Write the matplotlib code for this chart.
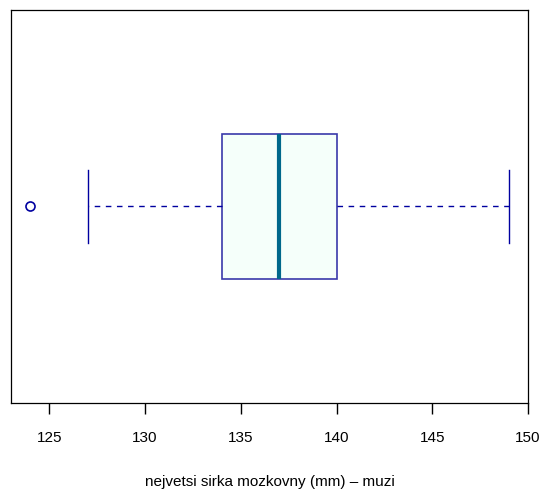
import matplotlib
matplotlib.use("Agg")
import matplotlib.pyplot as plt

# ─── Data ────────────────────────────────────────────────────────────
WHISKER_LO = 127
Q1         = 134
MEDIAN     = 137
Q3         = 140
WHISKER_HI = 149
OUTLIERS   = [124]
XTICKS     = [125, 130, 135, 140, 145, 150]
XLABEL     = "nejvetsi sirka mozkovny (mm) \u2013 muzi"

plt.rcParams["font.family"] = ["Liberation Sans", "DejaVu Sans"]

fig = plt.figure(figsize=(5.43, 4.93), dpi=100)
ax = fig.add_axes([11 / 543, 1 - 403 / 493, 517 / 543, 393 / 493])

stats = [{
    "whislo": WHISKER_LO, "q1": Q1, "med": MEDIAN, "q3": Q3,
    "whishi": WHISKER_HI, "fliers": OUTLIERS,
}]
ax.bxp(stats, positions=[1], vert=False, widths=0.4, patch_artist=True,
       boxprops=dict(facecolor="#F5FFFA", edgecolor="#3a3aaa", linewidth=1.2),
       medianprops=dict(color="#00688B", linewidth=3, solid_capstyle="butt"),
       whiskerprops=dict(color="#0000A0", linewidth=1, linestyle=(0, (4, 4))),
       capprops=dict(color="#0000A0", linewidth=1),
       capwidths=0.2,
       flierprops=dict(marker="o", markerfacecolor="none",
                       markeredgecolor="#0000A0", markersize=6.5,
                       markeredgewidth=1.2))

ax.set_xlim(123, 150)
ax.set_ylim(0.46, 1.54)
ax.set_yticks([])
ax.set_xticks(XTICKS)
ax.tick_params(axis="x", length=8, width=1, pad=12, labelsize=11)
for s in ax.spines.values():
    s.set_linewidth(0.9)
ax.set_xlabel(XLABEL, fontsize=11, labelpad=22)

fig.savefig("out.png", dpi=100)
